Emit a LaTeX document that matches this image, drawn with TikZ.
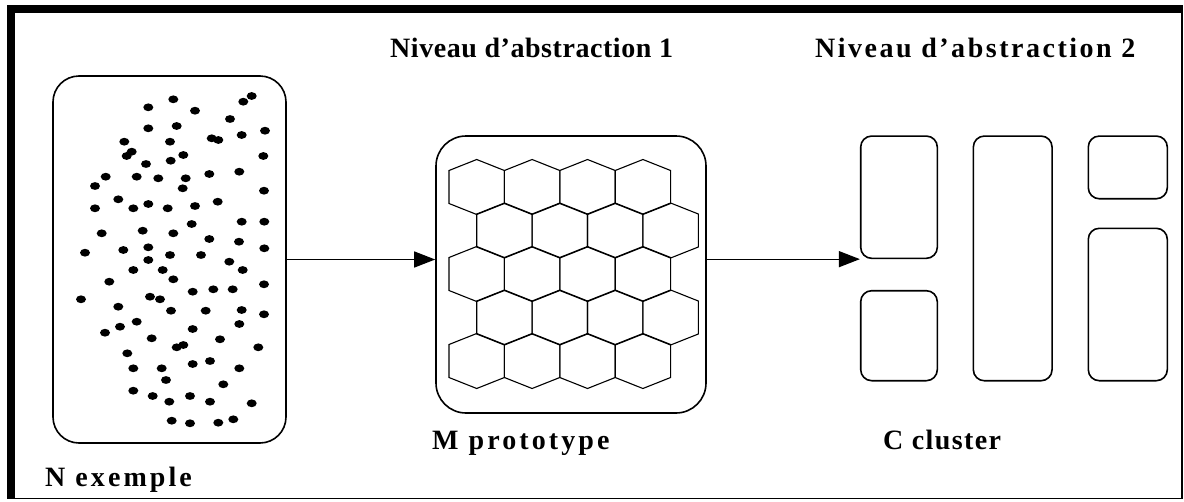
\documentclass[tikz,border=0pt]{standalone}
\usepackage{fontspec}
\setmainfont{Liberation Serif}
\usepackage{tikz}
\usetikzlibrary{arrows.meta}
\usetikzlibrary{positioning}
\tikzset{box/.style={shape=rectangle, draw=black, line width=1.6pt, rounded corners=26pt}}
\tikzset{clbox/.style={shape=rectangle, draw=black, line width=1.6pt, rounded corners=11pt, inner sep=0pt}}
\tikzset{lbl/.style={anchor=base west, inner sep=0pt, font=\bfseries\fontsize{28}{30}\selectfont\addfontfeature{LetterSpace=#1}}, lbl/.default=0}
\tikzset{hexline/.style={draw=black, line width=1.1pt}}

\begin{document}
\begin{tikzpicture}[x=1pt, y=-1pt, >={Triangle[length=21pt,width=16pt]}]
		\useasboundingbox (0,0) rectangle (1184,501);
		% frame
		\draw[line width=1.5pt] (11,9) rectangle (1182,498.5);
		\fill (7,5) rectangle (15,499);
		\fill (7,5) rectangle (1183,13);
		% boxes
		\node[box, minimum width=233pt, minimum height=367pt] (ex) at (169.5,259.5) {};
		\node[box, minimum width=270pt, minimum height=277pt, rounded corners=30pt] (proto) at (571,274.5) {};
		\node[clbox, minimum width=76.6pt, minimum height=122.3pt] (clA) at (899,197.2) {};
		\node[clbox, minimum width=76.6pt, minimum height=90pt] (clB) at (899,335.7) {};
		\node[clbox, minimum width=78.7pt, minimum height=244.7pt] (clC) at (1012.7,258.4) {};
		\node[clbox, minimum width=79pt, minimum height=62.7pt] (clD) at (1127.8,167.4) {};
		\node[clbox, minimum width=79pt, minimum height=152.4pt] (clE) at (1127.8,304.5) {};
		% examples
		\foreach \px/\py in {173.3/99.3, 148.3/107.3, 195/110.7, 243.3/101.7, 251.7/96, 230/119,
			148.3/128.3, 176.7/126, 211.7/138.3, 218.3/140, 241.7/135, 265/130.7,
			124.3/141.7, 170/141.7, 131.7/151.7, 126.7/156, 183.3/155, 146/164, 170.7/160.7, 263.3/156,
			105.7/176.7, 95/186, 136.7/176.7, 158.3/178.3, 185.7/178.3, 182.7/188.3, 209.3/174, 239.3/171.7, 264/190.7,
			118.3/199.3, 95/208.3, 133.3/208.3, 148.3/204, 167.7/208.3, 195/206, 217.7/201.7, 241.7/221.7, 264.3/221.7,
			101.7/233.3, 142.7/230.7, 173.3/233.3, 191.7/224, 209.3/239, 239/241.7, 264.3/248.3,
			85/252.7, 123.3/250, 148.3/247.3, 170/255, 201/255, 148.3/260, 229.3/261.7, 133.3/270, 162.7/270, 242.7/270,
			173.3/279.3, 109.3/281.7, 264/284.3,
			81/299.3, 150/296.7, 160/299.3, 118.3/306.7, 171/310.7, 192.7/291.7, 213.3/289.3, 232.7/289.3, 205.7/310.7, 241.7/310, 264/314.3,
			105/332.7, 120/326.7, 136.7/321.7, 192.7/329, 151.7/338.3, 239.3/324, 176.7/347.3, 183.3/345, 220/339.3, 258.3/347.3,
			127.3/353.3, 133.3/368.3, 161.7/368.3, 166/380, 192.7/364, 210/361, 239.3/368.3, 223.3/384.3,
			133.3/390.7, 152.7/396, 169.3/401.7, 190/396, 210/401.7, 251.7/403.3,
			171.7/420.7, 190/423.3, 218.3/422.7, 233.3/419.3}
			\fill (\px,\py) ellipse [x radius=5pt, y radius=3.9pt];
		% prototypes
		\foreach \r in {0,...,4}
			\foreach \c in {0,...,3} {
				\pgfmathsetmacro\hx{476.7+55.4*\c+27.7*mod(\r,2)}
				\pgfmathsetmacro\hy{187+43.5*\r}
				\draw[hexline] (\hx,\hy-27.5) -- (\hx+27.7,\hy-16.5) -- (\hx+27.7,\hy+16.5) -- (\hx,\hy+27.5)
					-- (\hx-27.7,\hy+16.5) -- (\hx-27.7,\hy-16.5) -- cycle;
			}
		% arrows
		\path [->, line width=1.3pt] (ex.east) edge (ex.east -| proto.west);
		\path [->, line width=1.3pt] (proto.east |- clA.south west) edge (clA.south west);
		% labels
		\node[lbl=2] (t1) at (390,57) {Niveau d'abstraction 1};
		\node[lbl=9] (t2) at (815,57) {Niveau d'abstraction 2};
		\node[lbl=11] (m) at (432,449) {M prototype};
		\node[lbl=5] (c) at (883,449) {C cluster};
		\node[lbl=11] (n) at (45,486) {N exemple};
	\end{tikzpicture}
\end{document}
